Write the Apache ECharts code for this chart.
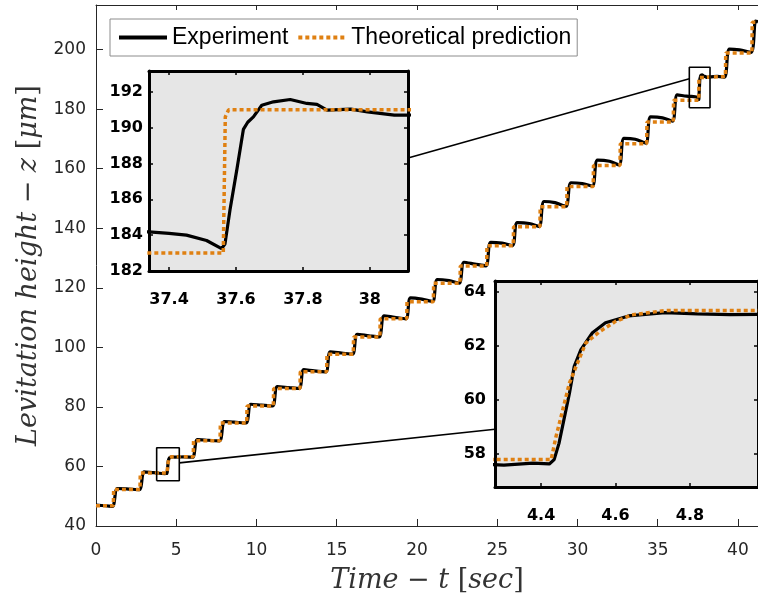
<!DOCTYPE html>
<html>
<head>
<meta charset="utf-8">
<script src="https://cdn.jsdelivr.net/npm/echarts@6/dist/echarts.min.js"></script>
<style>
  html, body { margin: 0; padding: 0; background: #fff; }
  #chart { width: 758px; height: 602px; }
</style>
</head>
<body>
<div id="chart"></div>
<script>
// measured experiment: time [s] / height [um]
const expTime = [0, 0.6, 1.03, 1.33, 1.9, 2.70, 3.0, 3.6, 4.30, 4.378, 4.422, 4.435, 4.448, 4.461, 4.476, 4.489,
  4.507, 4.538, 4.573, 4.635, 4.733, 4.82, 4.908, 5.5, 6.02, 6.32, 7.0, 7.70, 8.0, 8.6, 9.35, 9.65, 10.3, 11.0,
  11.3, 12.0, 12.66, 12.95, 13.6, 14.32, 14.6, 15.3, 15.98, 16.28, 17.0, 17.64, 17.95, 18.6, 19.31, 19.6, 20.3,
  20.97, 21.27, 22.0, 22.63, 22.93, 23.6, 24.29, 24.6, 25.3, 25.95, 26.25, 27.0, 27.61, 27.92, 28.6, 29.28, 29.6,
  30.3, 30.93, 31.25, 32.0, 32.6, 32.9, 33.6, 34.26, 34.56, 35.3, 35.92, 36.22, 36.8, 37.34, 37.4, 37.452,
  37.512, 37.557, 37.567, 37.582, 37.602, 37.622, 37.635, 37.652, 37.677, 37.712, 37.762, 37.812, 37.842,
  37.872, 37.943, 37.993, 38.073, 38.114, 38.7, 39.17, 39.47, 40.1, 40.82, 41.1, 41.25];
const expHeight = [47.0, 46.8, 46.6, 52.6, 52.5, 52.2, 58.2, 57.9, 57.6, 57.67, 57.64, 57.8, 58.4, 59.26, 60.24, 61.24,
  61.86, 62.48, 62.85, 63.1, 63.22, 63.18, 63.15, 63.2, 63.1, 69.0, 68.8, 68.6, 75.1, 74.9, 74.6, 80.9, 80.6, 80.3,
  86.8, 86.5, 86.2, 92.5, 92.1, 91.8, 98.5, 98.1, 97.7, 104.4, 103.9, 103.5, 110.6, 110.1, 109.6, 116.6, 116.2,
  115.4, 122.8, 122.4, 121.6, 128.6, 128.0, 127.4, 135.3, 135.0, 134.2, 141.9, 141.6, 140.6, 149.0, 148.6, 147.4, 155.3,
  155.0, 154.2, 162.9, 162.5, 161.3, 170.2, 169.9, 168.6, 177.4, 177.1, 176.0, 184.8, 184.4, 184.18, 184.1, 184.0,
  183.7, 183.25, 183.5, 185.4, 187.6, 189.9, 190.3, 190.6, 191.25, 191.44, 191.57, 191.35, 191.3,
  190.98, 191.03, 190.88, 190.7, 190.7, 191.0, 190.8, 200.2, 199.9, 199.1, 209.6, 209.4];

// theoretical prediction
const theoryTime = [0, 1.08, 1.10, 2.74, 2.76, 4.427, 4.44, 4.458, 4.476, 4.494, 4.52, 4.557, 4.6, 4.644, 4.733,
  6.06, 6.08, 7.73, 7.75, 9.39, 9.41, 11.05, 11.07, 12.71, 12.73, 14.37, 14.39, 16.03, 16.05, 17.69, 17.71,
  19.36, 19.38, 21.02, 21.04, 22.68, 22.70, 24.34, 24.36, 26.00, 26.02, 27.66, 27.68, 29.33, 29.35, 30.98, 31.00,
  32.65, 32.67, 34.31, 34.33, 35.97, 35.99, 37.562, 37.568, 37.578, 39.22, 39.24, 40.87, 40.89, 41.25];
const theoryHeight = [46.8, 46.8, 52.3, 52.3, 57.8, 57.8, 58.65, 59.63, 60.62, 61.24, 62.1, 62.52, 62.9, 63.14, 63.3,
  63.3, 68.6, 68.6, 74.6, 74.6, 80.3, 80.3, 86.2, 86.2, 91.8, 91.8, 97.7, 97.7, 103.5, 103.5, 109.6,
  109.6, 115.3, 115.3, 121.5, 121.5, 127.3, 127.3, 134.1, 134.1, 140.5, 140.5, 147.2, 147.2, 154.0, 154.0, 161.1,
  161.1, 168.4, 168.4, 175.7, 175.7, 183.0, 183.0, 190.6, 191.0, 191.0, 198.9, 198.9, 209.2, 209.2];

// ticks
const mainXTicks = [0, 5, 10, 15, 20, 25, 30, 35, 40];
const mainYTicks = [40, 60, 80, 100, 120, 140, 160, 180, 200];
const inset1XTicks = [37.4, 37.6, 37.8, 38];
const inset1YTicks = [182, 184, 186, 188, 190, 192];
const inset2XTicks = [4.4, 4.6, 4.8];
const inset2YTicks = [58, 60, 62, 64];

// axis ranges
const mainX = [0, 41.25], mainY = [40, 215];
const inset1X = [37.34, 38.114], inset1Y = [182, 193.16];
const inset2X = [4.276, 4.983], inset2Y = [56.79, 64.39];

// zoom boxes on the main plot [t0, t1, z0, z1]
const box1 = [36.97, 38.26, 180.5, 194.1];
const box2 = [3.78, 5.19, 55.2, 66.3];
// connector ends: point on box, point on inset edge
const link1 = [[36.97, 190.2], [38.114, 188.3]];
const link2 = [[5.19, 61.2], [4.276, 58.92]];

const zip = (a, b) => a.map((v, i) => [v, b[i]]);
const expData = zip(expTime, expHeight);
const theoryData = zip(theoryTime, theoryHeight);
const boxPath = b => [[b[0], b[2]], [b[1], b[2]], [b[1], b[3]], [b[0], b[3]], [b[0], b[2]]];

const gray = '#262626';
const orange = '#DF8012';

const chart = echarts.init(document.getElementById('chart'));

function insetX(grid, range, ticks, top) {
  return {
    type: 'value', gridIndex: grid, position: top ? 'top' : 'bottom', min: range[0], max: range[1],
    axisLine: {show: true, onZero: false, lineStyle: {color: '#000', width: 3}},
    axisTick: {show: true, inside: true, length: 4, customValues: ticks, lineStyle: {color: '#000', width: 1.5}},
    axisLabel: {show: !top, customValues: ticks, margin: 21, fontFamily: 'DejaVu Sans', fontWeight: 'bold', fontSize: 16, color: '#000'},
    splitLine: {show: false}
  };
}
function insetY(grid, range, ticks, right, margin) {
  return {
    type: 'value', gridIndex: grid, position: right ? 'right' : 'left', min: range[0], max: range[1],
    axisLine: {show: true, onZero: false, lineStyle: {color: '#000', width: 3}},
    axisTick: {show: true, inside: true, length: 4, customValues: ticks, lineStyle: {color: '#000', width: 1.5}},
    axisLabel: {show: !right, customValues: ticks, margin: margin, fontFamily: 'DejaVu Sans', fontWeight: 'bold', fontSize: 16, color: '#000'},
    splitLine: {show: false}
  };
}

const titleRich = {
  i: {fontFamily: 'DejaVu Serif', fontStyle: 'italic', fontSize: 27, color: '#333'},
  n: {fontFamily: 'DejaVu Serif', fontSize: 27, color: '#333'}
};

function expSeries(xi, yi, smooth) {
  return {name: 'Experiment', type: 'line', xAxisIndex: xi, yAxisIndex: yi, data: expData, symbol: 'none',
    smooth: smooth, lineStyle: {color: '#000', width: 3.2}, itemStyle: {color: '#000'}, z: 3};
}
function theorySeries(xi, yi) {
  return {name: 'Theoretical prediction', type: 'line', xAxisIndex: xi, yAxisIndex: yi, data: theoryData, symbol: 'none',
    lineStyle: {color: orange, width: 3.5, type: [4, 3]}, itemStyle: {color: orange}, z: 4};
}

chart.setOption({
  animation: false,
  backgroundColor: '#fff',
  legend: {
    data: ['Experiment', 'Theoretical prediction'],
    left: 110, top: 19,
    itemWidth: 48, itemHeight: 14, itemGap: 8,
    padding: [7, 6, 7, 7],
    borderColor: '#8c8c8c', borderWidth: 1, backgroundColor: '#fff',
    itemStyle: {opacity: 0},
    lineStyle: {width: 4},
    textStyle: {fontFamily: 'Liberation Sans', fontSize: 23, color: '#000'}
  },
  grid: [
    {left: 96, top: 5, right: 0, bottom: 76},
    {left: 149, top: 71, width: 259, height: 200, show: true, backgroundColor: '#e6e6e6', borderWidth: 0},
    {left: 495, top: 281, right: -4, height: 206, show: true, backgroundColor: '#e6e6e6', borderWidth: 0}
  ],
  xAxis: [
    {
      type: 'value', gridIndex: 0, min: mainX[0], max: mainX[1],
      axisLine: {onZero: false, lineStyle: {color: gray, width: 1}},
      axisTick: {inside: true, length: 7, customValues: mainXTicks, lineStyle: {color: gray}},
      axisLabel: {customValues: mainXTicks, margin: 16, fontFamily: 'DejaVu Sans', fontSize: 17, color: gray},
      splitLine: {show: false},
      name: '{i|Time} {n|\u2212} {i|t} {n|[}{i|sec}{n|]}',
      nameLocation: 'middle', nameGap: 41,
      nameTextStyle: {fontFamily: 'DejaVu Serif', fontSize: 27, color: '#333', rich: titleRich}
    },
    {
      type: 'value', gridIndex: 0, position: 'top', min: mainX[0], max: mainX[1],
      axisLine: {onZero: false, lineStyle: {color: gray, width: 1}},
      axisTick: {inside: true, length: 5, customValues: mainXTicks, lineStyle: {color: gray}},
      axisLabel: {show: false},
      splitLine: {show: false}
    },
    insetX(1, inset1X, inset1XTicks, false),
    insetX(1, inset1X, inset1XTicks, true),
    insetX(2, inset2X, inset2XTicks, false),
    insetX(2, inset2X, inset2XTicks, true)
  ],
  yAxis: [
    {
      type: 'value', gridIndex: 0, min: mainY[0], max: mainY[1],
      axisLine: {show: true, onZero: false, lineStyle: {color: gray, width: 1}},
      axisTick: {show: true, inside: true, length: 7, customValues: mainYTicks, lineStyle: {color: gray}},
      axisLabel: {customValues: mainYTicks, margin: 10, fontFamily: 'DejaVu Sans', fontSize: 17, color: gray},
      splitLine: {show: false},
      name: '{i|Levitation height} {n|\u2212} {i|z} {n|[}{i|\u03bcm}{n|]}',
      nameLocation: 'middle', nameGap: 43,
      nameTextStyle: {fontFamily: 'DejaVu Serif', fontSize: 27, color: '#333', rich: titleRich}
    },
    insetY(1, inset1Y, inset1YTicks, false, 6),
    insetY(1, inset1Y, inset1YTicks, true, 6),
    insetY(2, inset2Y, inset2YTicks, false, 9),
    insetY(2, inset2Y, inset2YTicks, true, 9)
  ],
  series: [
    expSeries(0, 0, 0.3),
    theorySeries(0, 0),
    {type: 'line', xAxisIndex: 0, yAxisIndex: 0, data: boxPath(box1), symbol: 'none', silent: true,
      lineStyle: {color: '#000', width: 1.6}, z: 5},
    {type: 'line', xAxisIndex: 0, yAxisIndex: 0, data: boxPath(box2), symbol: 'none', silent: true,
      lineStyle: {color: '#000', width: 1.6}, z: 5},
    expSeries(2, 1, false),
    theorySeries(2, 1),
    expSeries(4, 3, false),
    theorySeries(4, 3)
  ]
});

// connector lines between zoom boxes and insets
const p1a = chart.convertToPixel({seriesIndex: 0}, link1[0]);
const p1b = chart.convertToPixel({seriesIndex: 4}, link1[1]);
const p2a = chart.convertToPixel({seriesIndex: 0}, link2[0]);
const p2b = chart.convertToPixel({seriesIndex: 6}, link2[1]);
chart.setOption({
  graphic: [
    {type: 'line', z: 10, shape: {x1: p1a[0], y1: p1a[1], x2: p1b[0], y2: p1b[1]}, style: {stroke: '#000', lineWidth: 1.6}},
    {type: 'line', z: 10, shape: {x1: p2a[0], y1: p2a[1], x2: p2b[0], y2: p2b[1]}, style: {stroke: '#000', lineWidth: 1.6}}
  ]
});
</script>
</body>
</html>
